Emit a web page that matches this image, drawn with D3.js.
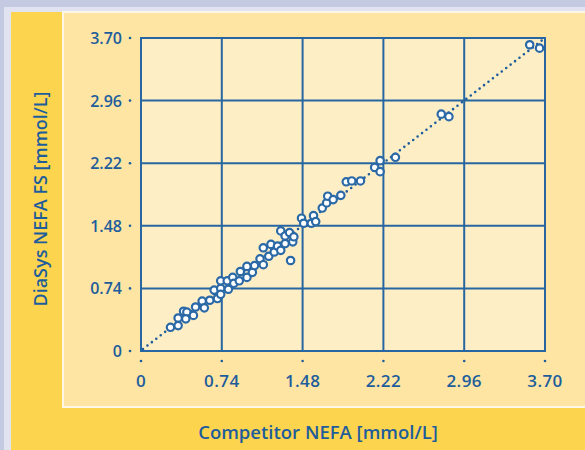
<!DOCTYPE html>
<meta charset="utf-8">
<head>
  <title>DiaSys NEFA FS vs competitor</title>
</head>
<style>
  body { margin:0; background:#c4cae1; }
  svg { display:block; font-family:"Open Sans", "Noto Sans", sans-serif; }
</style>
<body>
<div id="content"></div>
<script src="https://cdnjs.cloudflare.com/ajax/libs/d3/7.8.5/d3.min.js"></script>
<script>

const width = 585
const height = 450

// comparison values, mmol/L
var competitor = [0.27, 0.34, 0.34, 0.39, 0.42, 0.41, 0.48, 0.50, 0.56, 0.58,
  0.63, 0.67, 0.70, 0.73, 0.73, 0.73, 0.79, 0.80, 0.84, 0.85,
  0.90, 0.91, 0.97, 0.97, 1.02, 1.04, 1.09, 1.12, 1.12, 1.17,
  1.19, 1.22, 1.25, 1.28, 1.28, 1.32, 1.32, 1.36, 1.39, 1.40,
  1.37, 1.47, 1.49, 1.56, 1.58, 1.60, 1.66, 1.70, 1.71, 1.76,
  1.83, 1.88, 1.93, 2.01, 2.14, 2.19, 2.19, 2.33, 2.75, 2.82,
  3.56, 3.65];
var diasys = [0.28, 0.30, 0.39, 0.47, 0.46, 0.38, 0.42, 0.52, 0.59, 0.51,
  0.60, 0.72, 0.62, 0.74, 0.67, 0.83, 0.83, 0.73, 0.87, 0.80,
  0.83, 0.94, 0.87, 1.00, 0.93, 1.01, 1.09, 1.02, 1.22, 1.12,
  1.26, 1.17, 1.24, 1.19, 1.42, 1.27, 1.36, 1.40, 1.29, 1.35,
  1.07, 1.57, 1.51, 1.51, 1.60, 1.53, 1.69, 1.75, 1.83, 1.79,
  1.84, 2.00, 2.01, 2.01, 2.17, 2.25, 2.12, 2.29, 2.80, 2.77,
  3.62, 3.58];
var ticks = [0, 0.74, 1.48, 2.22, 2.96, 3.70];
var tickLabels = ["0", "0.74", "1.48", "2.22", "2.96", "3.70"];

var blue = "#1d5d9c"

const svg = d3.select('#content')
  .append('svg')
    .attr('width', width)
    .attr('height', height)

// backgrounds
svg.append('rect').attr('x', 4).attr('y', 7).attr('width', width).attr('height', height)
  .attr('fill', '#e1e4f0')
svg.append('rect').attr('x', 11).attr('y', 12).attr('width', width).attr('height', height)
  .attr('fill', '#fdd44e')
svg.append('rect').attr('x', 63).attr('y', 12).attr('width', width).attr('height', 395)
  .attr('fill', '#fee5a4').attr('stroke', '#fff7e6').attr('stroke-width', 2)

var x = d3.scaleLinear().domain([0, 3.70]).range([141, 545])
var y = d3.scaleLinear().domain([0, 3.70]).range([351, 38])

svg.append('rect')
  .attr('x', x(0)).attr('y', y(3.70))
  .attr('width', x(3.70) - x(0)).attr('height', y(0) - y(3.70))
  .attr('fill', '#fdeec6')

// grid
var g = svg.append('g')
g.selectAll('.vx').data(ticks).enter().append('line')
  .attr('x1', d => x(d)).attr('x2', d => x(d))
  .attr('y1', y(0)).attr('y2', y(3.70))
  .attr('stroke', '#2766a1').attr('stroke-width', 2)
g.selectAll('.hy').data(ticks).enter().append('line')
  .attr('y1', d => y(d)).attr('y2', d => y(d))
  .attr('x1', x(0) - 1).attr('x2', x(3.70) + 1)
  .attr('stroke', '#2766a1').attr('stroke-width', 2)

// tick dots and labels
svg.selectAll('.xd').data(ticks).enter().append('circle')
  .attr('cx', d => x(d)).attr('cy', 361).attr('r', 1.3).attr('fill', blue)
svg.selectAll('.yd').data(ticks).enter().append('circle')
  .attr('cx', 130).attr('cy', d => y(d)).attr('r', 1.3).attr('fill', blue)

svg.selectAll('.xl').data(ticks).enter().append('text')
  .attr('x', d => x(d)).attr('y', 387)
  .attr('text-anchor', 'middle')
  .attr('fill', blue).attr('font-size', 17).attr('font-weight', 600)
  .attr('letter-spacing', 0.4)
  .text((d, i) => tickLabels[i])
svg.selectAll('.yl').data(ticks).enter().append('text')
  .attr('x', 122).attr('y', d => y(d) + 6)
  .attr('text-anchor', 'end')
  .attr('fill', blue).attr('font-size', 16).attr('font-weight', 600)
  .text((d, i) => tickLabels[i])

// axis titles
svg.append('text')
  .attr('x', 318).attr('y', 439)
  .attr('text-anchor', 'middle')
  .attr('fill', blue).attr('font-size', 18.5).attr('font-weight', 600)
  .text('Competitor NEFA [mmol/L]')
svg.append('text')
  .attr('transform', 'translate(47,199) rotate(-90)')
  .attr('text-anchor', 'middle')
  .attr('fill', blue).attr('font-size', 18).attr('font-weight', 600)
  .text('DiaSys NEFA FS [mmol/L]')

// line of identity
svg.append('line')
  .attr('x1', x(0) + 2).attr('y1', y(0) - 2)
  .attr('x2', x(3.70)).attr('y2', y(3.70))
  .attr('stroke', blue).attr('stroke-width', 2.6)
  .attr('stroke-linecap', 'round')
  .attr('stroke-dasharray', '0,5.6')

// points
var pts = competitor.map(function(c, i) { return {c: c, d: diasys[i]} })
svg.append('g').selectAll('circle').data(pts).enter().append('circle')
  .attr('cx', d => x(d.c))
  .attr('cy', d => y(d.d))
  .attr('r', 3.7)
  .attr('fill', '#fff')
  .attr('stroke', '#2a69a6')
  .attr('stroke-width', 2.2)

</script>
</body>
</html>
